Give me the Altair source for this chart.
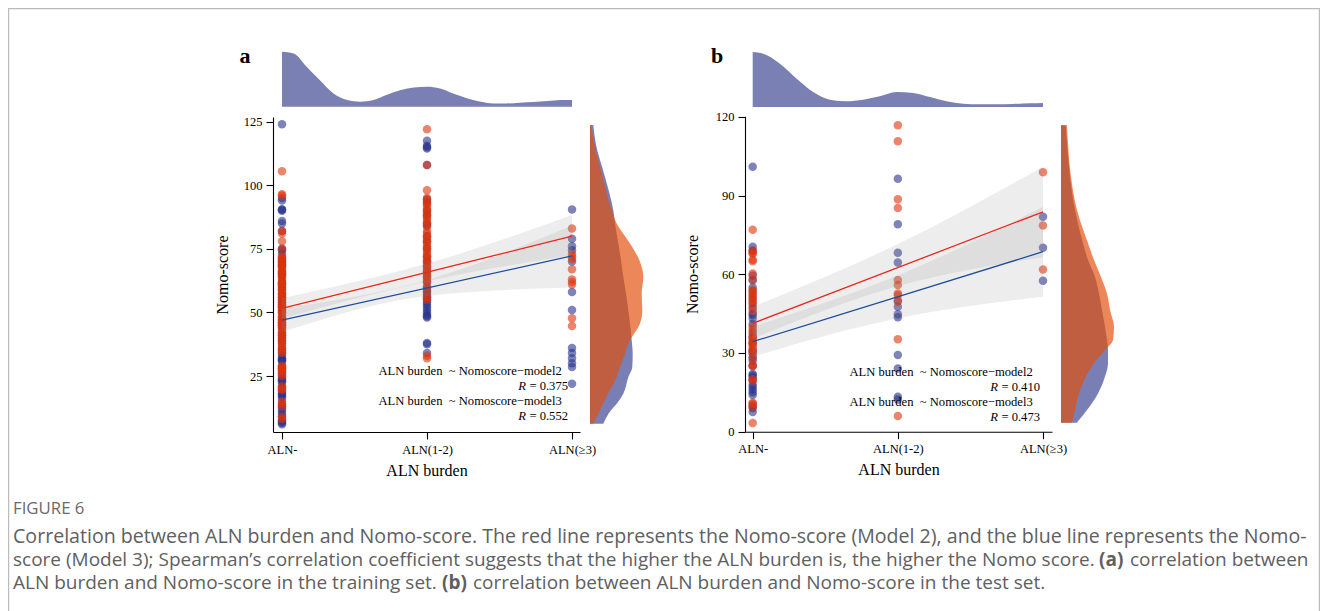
import json
import altair as alt
import pandas as pd

# ------------------------------------------------------------------ data
categories = ["ALN-", "ALN(1-2)", "ALN(\u22653)"]
ticks_a = [25, 50, 75, 100, 125]
ticks_b = [0, 30, 60, 90, 120]

# panel a (training set) - Nomo-score per ALN burden category
a_m3_neg = [124, 95, 94, 90.5, 90.5, 90, 86, 85, 82, 75, 74.5, 73, 71, 70, 69, 68, 66, 65, 64, 62, 61, 60,
            59, 57, 56, 55, 54, 53, 52, 51, 50, 48, 47, 46, 45, 44, 42, 41, 40, 39, 38, 36, 35, 34, 33, 32,
            31.5, 31, 31, 29, 28, 27, 26, 25, 24, 23.5, 23, 22.5, 21, 20, 19, 18, 17.5, 17, 16, 14, 13, 12,
            11, 10, 9, 7.5, 7, 6.5, 6]
a_m2_neg = [105.5, 96.5, 96, 82, 81, 78, 75, 72, 71.5, 71, 70, 69, 68.5, 68, 67, 66, 65.5, 65, 64, 63, 62,
            61.5, 61, 60, 59, 58, 57.5, 57, 56, 55, 54, 53, 52.5, 52, 51, 50, 49, 48, 47, 46, 45.5, 45, 44,
            43, 42, 41, 40, 39, 38, 37, 36, 35, 34, 29, 28.5, 28, 27.5, 27, 26, 25, 21, 20, 19.5, 15, 14, 13,
            9, 8]
a_m3_12 = [117.5, 115.5, 115, 114.5, 108, 94.5, 93, 90, 88, 85, 84, 80, 78, 75, 72, 70, 68, 66, 64, 62, 60,
           59, 58, 57, 56, 55, 54, 53, 52, 51, 50, 49, 48.5, 48, 38, 37.5, 34]
a_m2_12 = [122, 108, 98, 95, 94, 93, 92, 91, 90, 89, 88, 87, 86, 85, 84, 82, 81, 80, 79, 78, 77, 76, 75,
           74, 73, 72, 71, 70, 69, 68, 67, 66, 65, 64, 63, 62, 60, 58, 56, 55, 33, 32]
a_m3_3 = [90.5, 79, 76, 74.5, 70, 58, 51, 36, 34, 32, 30, 28.5, 22]
a_m2_3 = [83, 73, 72, 71, 67, 63, 62, 61, 47.7, 44.7]

# panel b (test set)
b_m3_neg = [101, 70.5, 69, 59.5, 57.7, 55, 52, 49, 47, 45, 44.4, 43, 41, 38, 36, 34, 31, 30, 28.5, 27, 25,
            22, 21.5, 20.8, 19.6, 18, 17, 16, 15, 14, 10, 9, 7.5]
b_m2_neg = [77, 69, 68, 67.9, 65.5, 65, 60.3, 58, 54, 53.5, 52.9, 51, 50.7, 49.8, 48, 46, 40, 39, 37, 36,
            35, 34, 33.5, 33, 32, 31, 30, 28, 25.3, 25, 20, 19.5, 11, 10.7, 9.4, 3.3]
b_m3_12 = [96.4, 79.1, 68.2, 64.5, 50, 47.6, 44.8, 43.6, 29.2, 24.1, 13.3, 12.3]
b_m2_12 = [116.8, 110.7, 88.6, 85.3, 57.8, 55.9, 52.7, 52, 49.5, 35.2, 6]
b_m3_3 = [81.9, 70.1, 57.5]
b_m2_3 = [98.9, 78.6, 61.8]

# fitted lines (value at ALN- and ALN(>=3))
fit_x = [0, 2]
a_fit_m2 = [51.6, 80.0]
a_fit_m3 = [47.0, 72.2]
b_fit_m2 = [41.3, 83.8]
b_fit_m3 = [34.3, 68.6]

# confidence bands
band_x = [0, 1, 2]
a_m2_lo, a_m2_hi = [47.6, 62.3, 72.5], [55.6, 69.2, 88.3]
a_m3_lo, a_m3_hi = [42.4, 56.5, 59.8], [51.5, 62.8, 84.2]
b_m2_lo, b_m2_hi = [35.5, 55.5, 66.5], [47.6, 71.5, 101.0]
b_m3_lo, b_m3_hi = [28.6, 43.2, 51.4], [40.0, 59.5, 85.7]

# top marginal density of ALN burden (relative height)
a_top_x = [0, 0.08, 0.17, 0.26, 0.355, 0.45, 0.54, 0.63, 0.72, 0.82, 0.91, 1.0, 1.09, 1.18, 1.28, 1.37,
           1.46, 1.55, 1.64, 1.736, 1.83, 1.92, 2.0]
a_top_d = [55, 53.3, 40, 26.7, 13.3, 6.7, 5, 6.7, 11.7, 16.7, 19.3, 20, 18.3, 13.3, 8.3, 5, 3.3, 3.3, 4,
           4.7, 5.7, 6.7, 6.7]
b_top_x = [0, 0.073, 0.188, 0.303, 0.417, 0.532, 0.647, 0.761, 0.876, 0.99, 1.106, 1.22, 1.335, 1.45,
           1.564, 1.679, 1.794, 1.908, 2.0]
b_top_d = [55, 53.3, 43.3, 28.3, 15, 7.3, 5.7, 7.3, 10.7, 15, 14, 10, 5.7, 3.3, 2.7, 2.7, 3, 3.7, 4]

# right marginal densities of Nomo-score (relative width)
a_right_v = [123.7, 116.5, 103.3, 90.2, 85, 77.1, 70.6, 64, 57.4, 50.9, 45.6, 39.1, 37.8, 33.8, 28.5,
             24.6, 18, 14.1, 11.5, 6.2]
a_right_m3 = [3.3, 5.7, 15, 23.3, 25, 28.3, 31, 33.3, 36, 38.3, 40, 41.7, 42, 42.7, 42.3, 38.3, 33.3,
              26.7, 21, 13.3]
a_right_m2 = [1, 4.3, 12.7, 21.7, 26.7, 40, 49.3, 53.3, 51.7, 52.3, 50, 40, 38.3, 35, 30, 26.7, 18, 13,
              10, 3.3]
b_right_v = [116.8, 109.9, 97.1, 84.5, 71.8, 65.4, 59, 52.7, 46.4, 40, 34.9, 31.1, 26.1, 21, 14.6, 8.3, 3.4]
b_right_m2 = [6, 7, 10, 16, 27, 33, 40, 46, 49, 53, 52, 44, 33, 25, 18, 14, 11]
b_right_m3 = [4.7, 6, 9, 14, 22, 27, 34, 38, 41, 44, 46, 47, 47, 44, 37, 26, 15.7]

annot_a = ["ALN burden\u00a0\u00a0~ Nomoscore\u2212model2", "0.375",
           "ALN burden\u00a0\u00a0~ Nomoscore\u2212model3", "0.552"]
annot_b = ["ALN burden\u00a0\u00a0~ Nomoscore\u2212model2", "0.410",
           "ALN burden\u00a0\u00a0~ Nomoscore\u2212model3", "0.473"]

caption_head = "FIGURE 6"
caption_1 = ("Correlation between ALN burden and Nomo-score. The red line represents the Nomo-score "
             "(Model 2), and the blue line represents the Nomo-")
caption_2 = ("score (Model 3); Spearman\u2019s correlation coefficient suggests that the higher the ALN "
             "burden is, the higher the Nomo score.")
caption_2b = "(a)"
caption_2c = "correlation between"
caption_3 = "ALN burden and Nomo-score in the training set."
caption_3b = "(b)"
caption_3c = "correlation between ALN burden and Nomo-score in the test set."

# ------------------------------------------------------------------ style / geometry
W, H = 1312, 603
SERIF = "Liberation Serif"
SANS = "Open Sans"
C_M2 = "#e0320a"     # model 2 points
C_M3 = "#28328c"     # model 3 points
LINE_M2 = "#e8281e"
LINE_M3 = "#1f4e9a"
DEN_BLUE = "#3a4290"
DEN_ORANGE = "#e14e0b"
TOP_BLUE = "#7b80b4"

GEO = {
    "a": dict(xd=[-0.062, 2.055], xr=[265, 572], yd=[2.98, 126.85], yr=[424, 109],
              top_r=[98.7, 43.7], right_r=[582, 637], yaxis=265, xaxis=424,
              ytitle_x=-51, xtitle_x=418.5, letter_x=237),
    "b": dict(xd=[-0.053, 2.062], xr=[737, 1044], yd=[0, 120.2], yr=[423.7, 108.3],
              top_r=[99, 44], right_r=[1053, 1108], yaxis=737, xaxis=423.7,
              ytitle_x=-53, xtitle_x=890.5, letter_x=709),
}


def sx(p):
    g = GEO[p]
    return alt.Scale(domain=g["xd"], range=g["xr"], nice=False, zero=False)


def sy(p):
    g = GEO[p]
    return alt.Scale(domain=g["yd"], range=g["yr"], nice=False, zero=False)


label_expr = json.dumps(categories, ensure_ascii=False) + "[datum.value]"


def points_df(lists):
    rows = []
    for ci, vals in enumerate(lists):
        for v in vals:
            rows.append({"x": ci, "score": v})
    return pd.DataFrame(rows)


def txt(s, x, y, **kw):
    return alt.Chart(pd.DataFrame({"t": [s]})).mark_text(**kw).encode(
        text="t:N", x=alt.value(x), y=alt.value(y))


def panel(p, m3_lists, m2_lists, fit_m2, fit_m3, bands, top_x, top_d, r_v, r_m3, r_m2, annot, yticks):
    g = GEO[p]
    xaxis = alt.Axis(orient="bottom", offset=g["xaxis"] - H, values=[0, 1, 2], labelExpr=label_expr,
                     title="ALN burden", grid=False, domainColor="black", domainWidth=1.1,
                     tickColor="black", tickWidth=1.1, tickSize=7, labelPadding=4, labelFlush=False,
                     labelFont=SERIF, labelFontSize=12.5, labelColor="black",
                     titleFont=SERIF, titleFontSize=16, titleFontWeight="normal", titleColor="black",
                     titleX=g["xtitle_x"], titleY=38, titleBaseline="middle", titleAlign="center")
    yaxis = alt.Axis(orient="left", offset=-g["yaxis"], values=yticks, title="Nomo-score", grid=False,
                     domainColor="black", domainWidth=1.1, tickColor="black", tickWidth=1.1, tickSize=7,
                     labelPadding=4, labelFlush=False, labelFont=SERIF, labelFontSize=12.5,
                     labelColor="black", titleFont=SERIF, titleFontSize=16, titleFontWeight="normal",
                     titleColor="black", titleX=g["ytitle_x"], titleY=(g["yr"][0] + g["yr"][1]) / 2,
                     titleBaseline="middle", titleAlign="center", titleAngle=-90)
    layers = []
    layers.append(alt.Chart(points_df(m3_lists)).mark_circle(size=72, opacity=0.6, color=C_M3).encode(
        x=alt.X("x:Q", scale=sx(p), axis=xaxis), y=alt.Y("score:Q", scale=sy(p), axis=yaxis)))
    layers.append(alt.Chart(points_df(m2_lists)).mark_circle(size=72, opacity=0.6, color=C_M2).encode(
        x=alt.X("x:Q", scale=sx(p), axis=None), y=alt.Y("score:Q", scale=sy(p), axis=None)))
    for lo, hi in bands:
        df = pd.DataFrame({"x": band_x, "lo": lo, "hi": hi})
        layers.append(alt.Chart(df).mark_area(color="#8c8c8c", opacity=0.16, interpolate="monotone").encode(
            x=alt.X("x:Q", scale=sx(p), axis=None), y=alt.Y("lo:Q", scale=sy(p), axis=None), y2="hi:Q"))
    for vals, col in ((fit_m3, LINE_M3), (fit_m2, LINE_M2)):
        df = pd.DataFrame({"x": fit_x, "y": vals})
        layers.append(alt.Chart(df).mark_line(color=col, strokeWidth=1.3).encode(
            x=alt.X("x:Q", scale=sx(p), axis=None), y=alt.Y("y:Q", scale=sy(p), axis=None)))
    # top marginal
    df = pd.DataFrame({"x": top_x, "d": top_d})
    layers.append(alt.Chart(df).mark_area(color=TOP_BLUE, interpolate="monotone").encode(
        x=alt.X("x:Q", scale=sx(p), axis=None),
        y=alt.Y("d:Q", scale=alt.Scale(domain=[0, 55], range=g["top_r"], nice=False, zero=False), axis=None),
        y2=alt.datum(0)))
    # right marginals
    for vals, col in ((r_m3, DEN_BLUE), (r_m2, DEN_ORANGE)):
        df = pd.DataFrame({"v": r_v, "d": vals})
        layers.append(alt.Chart(df).mark_area(color=col, opacity=0.68, orient="horizontal",
                                              interpolate="monotone").encode(
            x=alt.X("d:Q", scale=alt.Scale(domain=[0, 55], range=g["right_r"], nice=False, zero=False),
                    axis=None, stack=None),
            x2=alt.datum(0),
            y=alt.Y("v:Q", scale=sy(p), axis=None)))
    # annotation
    xr = g["xr"]
    right1 = xr[1] - 18.3 if p == "a" else xr[1] - 19.3
    right2 = right1 + 6.3 if p == "a" else right1 + 7.3
    y0 = 362.7 if p == "a" else 363.7
    ts = dict(font=SERIF, fontSize=12.6, color="black", align="right", baseline="middle")
    layers.append(txt(annot[0], right1, y0, **ts))
    layers.append(txt("=\u00a0" + annot[1], right2, y0 + 15, **ts))
    layers.append(txt("R", right2 - 42, y0 + 15, fontStyle="italic", **ts))
    layers.append(txt(annot[2], right1, y0 + 30, **ts))
    layers.append(txt("=\u00a0" + annot[3], right2, y0 + 45.3, **ts))
    layers.append(txt("R", right2 - 42, y0 + 45.3, fontStyle="italic", **ts))
    # panel letter
    layers.append(txt(p, g["letter_x"], 54.7, font=SERIF, fontSize=22,
                      fontWeight="bold", color="black", align="center", baseline="alphabetic"))
    return layers


layers = []
layers += panel("a", [a_m3_neg, a_m3_12, a_m3_3], [a_m2_neg, a_m2_12, a_m2_3], a_fit_m2, a_fit_m3,
                [(a_m3_lo, a_m3_hi), (a_m2_lo, a_m2_hi)], a_top_x, a_top_d,
                a_right_v, a_right_m3, a_right_m2, annot_a, ticks_a)
layers += panel("b", [b_m3_neg, b_m3_12, b_m3_3], [b_m2_neg, b_m2_12, b_m2_3], b_fit_m2, b_fit_m3,
                [(b_m3_lo, b_m3_hi), (b_m2_lo, b_m2_hi)], b_top_x, b_top_d,
                b_right_v, b_right_m3, b_right_m2, annot_b, ticks_b)

# caption
CAP_COL = "#606060"
def cap(fs, **kw):
    d = dict(font=SANS, fontSize=fs, color=CAP_COL, align="left", baseline="middle")
    d.update(kw)
    return d

layers.append(txt(caption_head, 5, 501, **cap(16.8, color="#6a6a6a")))
layers.append(txt(caption_1, 5, 529, **cap(19.6)))
layers.append(txt(caption_2, 5, 552, **cap(19)))
layers.append(txt(caption_2b, 1091, 552, **cap(19, fontWeight="bold")))
layers.append(txt(caption_2c, 1122, 552, **cap(19)))
layers.append(txt(caption_3, 5, 575, **cap(19)))
layers.append(txt(caption_3b, 434, 575, **cap(19, fontWeight="bold")))
layers.append(txt(caption_3c, 465, 575, **cap(19)))

# frame
one = pd.DataFrame({"k": [1]})
frame = dict(color="#bbbbbb", strokeWidth=1.2)
layers.append(alt.Chart(one).mark_rule(**frame).encode(x=alt.value(0), x2=alt.value(W), y=alt.value(0.6)))
layers.append(alt.Chart(one).mark_rule(**frame).encode(x=alt.value(0.6), y=alt.value(0), y2=alt.value(H)))
layers.append(alt.Chart(one).mark_rule(**frame).encode(x=alt.value(W - 0.6), y=alt.value(0), y2=alt.value(H)))

chart = alt.layer(*layers).resolve_scale(x="independent", y="independent").properties(
    width=W, height=H, padding=0, autosize=alt.AutoSizeParams(type="none"),
    background="white"
).configure_view(stroke=None)

chart.save("out.html", embed_options={"renderer": "svg", "actions": False})
